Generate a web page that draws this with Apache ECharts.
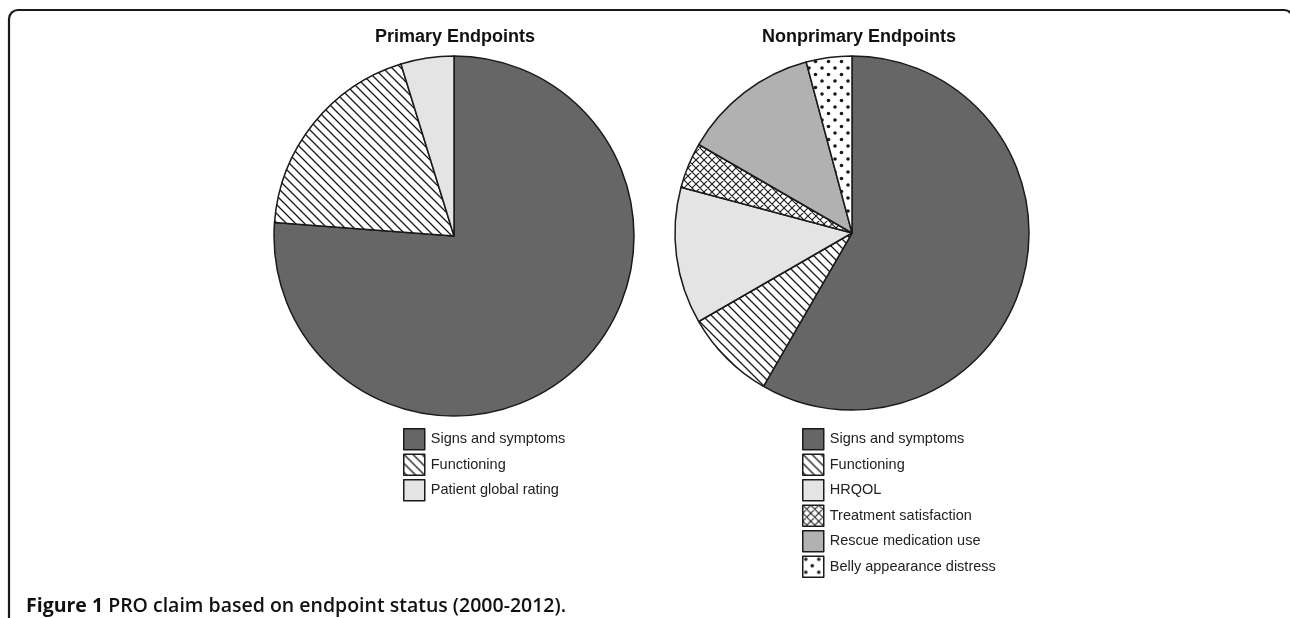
<!DOCTYPE html>
<html>
<head>
<meta charset="utf-8">
<script src="https://cdn.jsdelivr.net/npm/echarts@6/dist/echarts.min.js"></script>
<style>
html,body{margin:0;padding:0;background:#fff;}
#chart{width:1290px;height:618px;}
</style>
</head>
<body>
<div id="chart"></div>
<script>
// ---- Data (counts) ----
const primaryTitle = 'Primary Endpoints';
const primaryCategories = ['Signs and symptoms', 'Functioning', 'Patient global rating'];
const primaryValues = [16, 4, 1];

const nonprimaryTitle = 'Nonprimary Endpoints';
const nonprimaryCategories = ['Signs and symptoms', 'Functioning', 'HRQOL', 'Treatment satisfaction', 'Rescue medication use', 'Belly appearance distress'];
const nonprimaryValues = [14, 2, 3, 1, 3, 1];

const captionBold = 'Figure 1';
const captionRest = ' PRO claim based on endpoint status (2000-2012).';

// ---- Fill patterns ----
function makeTile(size, draw) {
  const c = document.createElement('canvas');
  c.width = size; c.height = size;
  const ctx = c.getContext('2d');
  ctx.fillStyle = '#ffffff';
  ctx.fillRect(0, 0, size, size);
  ctx.strokeStyle = '#1a1a1a';
  ctx.fillStyle = '#1a1a1a';
  draw(ctx, size);
  return { image: c, repeat: 'repeat' };
}
const hatch = makeTile(9, (ctx, s) => {
  ctx.lineWidth = 1.3;
  ctx.beginPath();
  for (let k = -1; k <= 1; k++) {
    ctx.moveTo(k * s - 1, -1);
    ctx.lineTo(k * s + s + 1, s + 1);
  }
  ctx.stroke();
});
const cross = makeTile(8, (ctx, s) => {
  ctx.lineWidth = 1.1;
  ctx.beginPath();
  for (let k = -1; k <= 1; k++) {
    ctx.moveTo(k * s - 1, -1);
    ctx.lineTo(k * s + s + 1, s + 1);
    ctx.moveTo(k * s + s + 1, -1);
    ctx.lineTo(k * s - 1, s + 1);
  }
  ctx.stroke();
});
const dots = makeTile(13, (ctx, s) => {
  [[3, 3], [9.5, 9.5]].forEach(p => {
    ctx.beginPath();
    ctx.arc(p[0], p[1], 1.8, 0, Math.PI * 2);
    ctx.fill();
  });
});

const fills = {
  'Signs and symptoms': '#666666',
  'Functioning': hatch,
  'Patient global rating': '#e4e4e4',
  'HRQOL': '#e4e4e4',
  'Treatment satisfaction': cross,
  'Rescue medication use': '#b1b1b1',
  'Belly appearance distress': dots
};

function pieData(cats, vals) {
  return cats.map((n, i) => ({ name: n, value: vals[i], itemStyle: { color: fills[n] } }));
}

const pieCommon = {
  type: 'pie',
  startAngle: 90,
  clockwise: true,
  label: { show: false },
  labelLine: { show: false },
  emphasis: { disabled: true },
  animation: false,
  itemStyle: { borderColor: '#1a1a1a', borderWidth: 1.5 }
};

const legendCommon = {
  orient: 'vertical',
  itemWidth: 21,
  itemHeight: 21,
  itemGap: 3,
  icon: 'rect',
  selectedMode: false,
  textStyle: { fontFamily: 'Liberation Sans, Arial, sans-serif', fontSize: 14.5, color: '#222', padding: [0, 0, 0, 1] },
  itemStyle: { borderColor: '#1a1a1a', borderWidth: 1.5 }
};

const chart = echarts.init(document.getElementById('chart'), null, { renderer: 'canvas' });
chart.setOption({
  backgroundColor: '#ffffff',
  animation: false,
  title: [
    { text: primaryTitle, left: 450, top: 23, textAlign: 'center',
      textStyle: { fontFamily: 'Liberation Sans, Arial, sans-serif', fontSize: 18, fontWeight: 'bold', color: '#111' } },
    { text: nonprimaryTitle, left: 854, top: 23, textAlign: 'center',
      textStyle: { fontFamily: 'Liberation Sans, Arial, sans-serif', fontSize: 18, fontWeight: 'bold', color: '#111' } }
  ],
  legend: [
    Object.assign({}, legendCommon, { left: 398, top: 423, data: primaryCategories }),
    Object.assign({}, legendCommon, { left: 797, top: 423, data: nonprimaryCategories })
  ],
  series: [
    Object.assign({}, pieCommon, { name: primaryTitle, center: [454, 236], radius: 180, data: pieData(primaryCategories, primaryValues) }),
    Object.assign({}, pieCommon, { name: nonprimaryTitle, center: [852, 233], radius: 177, data: pieData(nonprimaryCategories, nonprimaryValues) })
  ],
  graphic: [
    { type: 'rect', silent: true, shape: { x: 9, y: 10, width: 1284, height: 700, r: 9 },
      style: { fill: 'none', stroke: '#1a1a1a', lineWidth: 2.2 } },
    { type: 'text', silent: true, left: 26, top: 596,
      style: {
        text: '{b|' + captionBold + '}{r|' + captionRest + '}',
        rich: {
          b: { fontFamily: 'Open Sans, sans-serif', fontSize: 19.5, fontWeight: 'bold', fill: '#111' },
          r: { fontFamily: 'Open Sans, sans-serif', fontSize: 19.5, fontWeight: 600, fill: '#111' }
        }
      } }
  ]
});
</script>
</body>
</html>
